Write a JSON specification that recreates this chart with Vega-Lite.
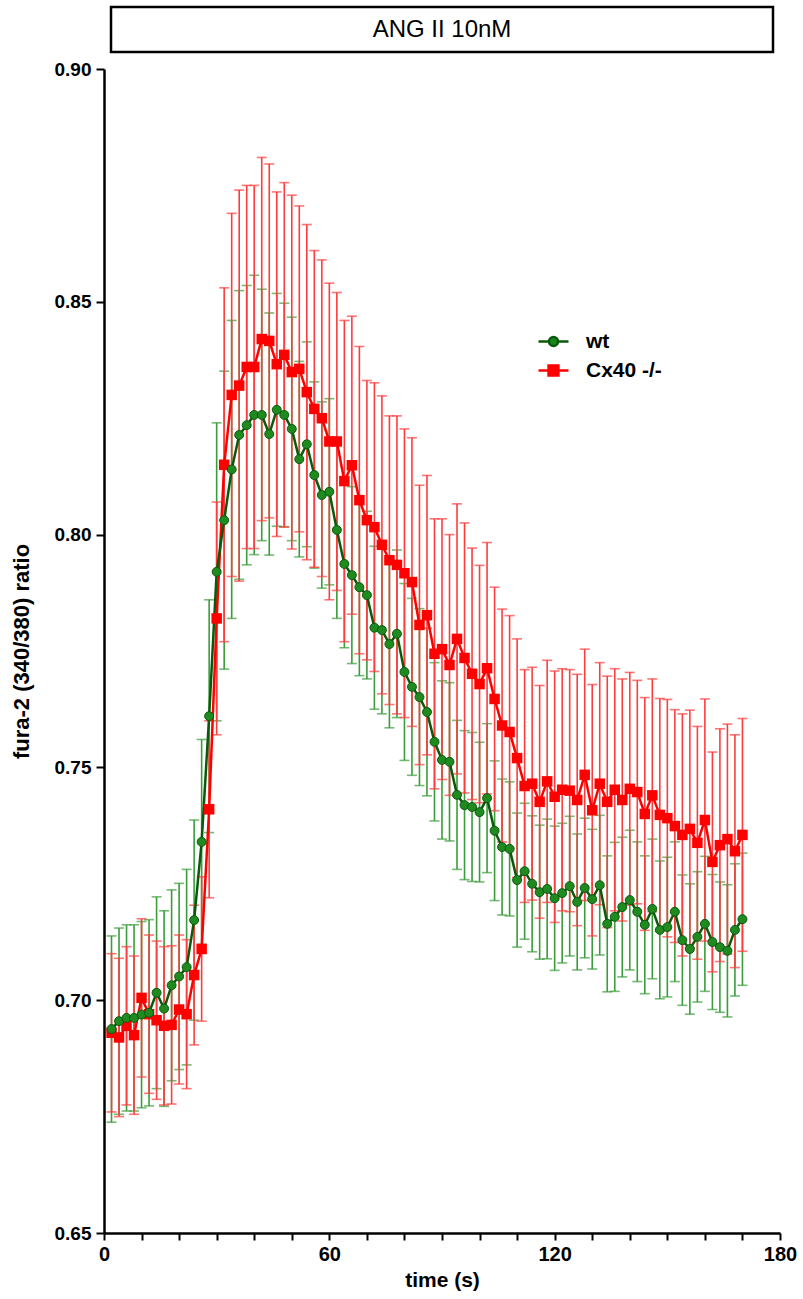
{
  "$schema": "https://vega.github.io/schema/vega-lite/v6.json",
  "padding": {"left": 10, "top": 5, "right": 4, "bottom": 4},
  "config": {"view": {"stroke": null}, "font": "Liberation Sans"},
  "bounds": "flush",
  "center": true,
  "spacing": 17,
  "vconcat": [
    {
      "width": 662,
      "height": 45,
      "view": {"stroke": "black", "strokeWidth": 2.5, "fill": "white"},
      "data": {"values": [{"label": "ANG II 10nM"}]},
      "mark": {"type": "text", "fontSize": 24, "font": "Liberation Sans", "color": "black", "baseline": "middle", "align": "center"},
      "encoding": {"text": {"field": "label", "type": "nominal"}}
    },
    {
      "width": 676,
      "height": 1164,
      "data": {"values": [
        {"t":2,"s":"Cx40 -/-","m":0.693,"e":0.017},
        {"t":4,"s":"Cx40 -/-","m":0.692,"e":0.017},
        {"t":6,"s":"Cx40 -/-","m":0.6945,"e":0.017},
        {"t":8,"s":"Cx40 -/-","m":0.6925,"e":0.017},
        {"t":10,"s":"Cx40 -/-","m":0.7005,"e":0.017},
        {"t":12,"s":"Cx40 -/-","m":0.697,"e":0.017},
        {"t":14,"s":"Cx40 -/-","m":0.6957,"e":0.017},
        {"t":16,"s":"Cx40 -/-","m":0.6945,"e":0.017},
        {"t":18,"s":"Cx40 -/-","m":0.6947,"e":0.017},
        {"t":20,"s":"Cx40 -/-","m":0.698,"e":0.016},
        {"t":22,"s":"Cx40 -/-","m":0.697,"e":0.016},
        {"t":24,"s":"Cx40 -/-","m":0.7054,"e":0.015},
        {"t":26,"s":"Cx40 -/-","m":0.711,"e":0.0155},
        {"t":28,"s":"Cx40 -/-","m":0.741,"e":0.019},
        {"t":30,"s":"Cx40 -/-","m":0.782,"e":0.025},
        {"t":32,"s":"Cx40 -/-","m":0.815,"e":0.038},
        {"t":34,"s":"Cx40 -/-","m":0.83,"e":0.039},
        {"t":36,"s":"Cx40 -/-","m":0.832,"e":0.042},
        {"t":38,"s":"Cx40 -/-","m":0.836,"e":0.039},
        {"t":40,"s":"Cx40 -/-","m":0.836,"e":0.039},
        {"t":42,"s":"Cx40 -/-","m":0.842,"e":0.039},
        {"t":44,"s":"Cx40 -/-","m":0.8416,"e":0.038},
        {"t":46,"s":"Cx40 -/-","m":0.8366,"e":0.037},
        {"t":48,"s":"Cx40 -/-","m":0.8386,"e":0.037},
        {"t":50,"s":"Cx40 -/-","m":0.8349,"e":0.038},
        {"t":52,"s":"Cx40 -/-","m":0.8356,"e":0.035},
        {"t":54,"s":"Cx40 -/-","m":0.8306,"e":0.036},
        {"t":56,"s":"Cx40 -/-","m":0.827,"e":0.034},
        {"t":58,"s":"Cx40 -/-","m":0.825,"e":0.034},
        {"t":60,"s":"Cx40 -/-","m":0.82,"e":0.034},
        {"t":62,"s":"Cx40 -/-","m":0.82,"e":0.032},
        {"t":64,"s":"Cx40 -/-","m":0.8115,"e":0.0345},
        {"t":66,"s":"Cx40 -/-","m":0.8149,"e":0.032},
        {"t":68,"s":"Cx40 -/-","m":0.8074,"e":0.033},
        {"t":70,"s":"Cx40 -/-","m":0.8031,"e":0.03},
        {"t":72,"s":"Cx40 -/-","m":0.8016,"e":0.031},
        {"t":74,"s":"Cx40 -/-","m":0.7978,"e":0.032},
        {"t":76,"s":"Cx40 -/-","m":0.7945,"e":0.031},
        {"t":78,"s":"Cx40 -/-","m":0.7935,"e":0.032},
        {"t":80,"s":"Cx40 -/-","m":0.7917,"e":0.031},
        {"t":82,"s":"Cx40 -/-","m":0.7898,"e":0.031},
        {"t":84,"s":"Cx40 -/-","m":0.7806,"e":0.03},
        {"t":86,"s":"Cx40 -/-","m":0.7827,"e":0.03},
        {"t":88,"s":"Cx40 -/-","m":0.7744,"e":0.029},
        {"t":90,"s":"Cx40 -/-","m":0.7754,"e":0.028},
        {"t":92,"s":"Cx40 -/-","m":0.772,"e":0.028},
        {"t":94,"s":"Cx40 -/-","m":0.7776,"e":0.029},
        {"t":96,"s":"Cx40 -/-","m":0.7735,"e":0.029},
        {"t":98,"s":"Cx40 -/-","m":0.7701,"e":0.027},
        {"t":100,"s":"Cx40 -/-","m":0.7679,"e":0.0255},
        {"t":102,"s":"Cx40 -/-","m":0.7713,"e":0.027},
        {"t":104,"s":"Cx40 -/-","m":0.7647,"e":0.024},
        {"t":106,"s":"Cx40 -/-","m":0.759,"e":0.025},
        {"t":108,"s":"Cx40 -/-","m":0.7576,"e":0.025},
        {"t":110,"s":"Cx40 -/-","m":0.752,"e":0.0256},
        {"t":112,"s":"Cx40 -/-","m":0.746,"e":0.025},
        {"t":114,"s":"Cx40 -/-","m":0.7465,"e":0.025},
        {"t":116,"s":"Cx40 -/-","m":0.7426,"e":0.025},
        {"t":118,"s":"Cx40 -/-","m":0.747,"e":0.026},
        {"t":120,"s":"Cx40 -/-","m":0.7437,"e":0.027},
        {"t":122,"s":"Cx40 -/-","m":0.7452,"e":0.026},
        {"t":124,"s":"Cx40 -/-","m":0.745,"e":0.026},
        {"t":126,"s":"Cx40 -/-","m":0.743,"e":0.027},
        {"t":128,"s":"Cx40 -/-","m":0.7484,"e":0.027},
        {"t":130,"s":"Cx40 -/-","m":0.7408,"e":0.027},
        {"t":132,"s":"Cx40 -/-","m":0.7465,"e":0.026},
        {"t":134,"s":"Cx40 -/-","m":0.7426,"e":0.027},
        {"t":136,"s":"Cx40 -/-","m":0.7452,"e":0.026},
        {"t":138,"s":"Cx40 -/-","m":0.743,"e":0.026},
        {"t":140,"s":"Cx40 -/-","m":0.7454,"e":0.025},
        {"t":142,"s":"Cx40 -/-","m":0.7447,"e":0.024},
        {"t":144,"s":"Cx40 -/-","m":0.74,"e":0.025},
        {"t":146,"s":"Cx40 -/-","m":0.744,"e":0.025},
        {"t":148,"s":"Cx40 -/-","m":0.7398,"e":0.025},
        {"t":150,"s":"Cx40 -/-","m":0.7391,"e":0.0255},
        {"t":152,"s":"Cx40 -/-","m":0.7374,"e":0.025},
        {"t":154,"s":"Cx40 -/-","m":0.7355,"e":0.026},
        {"t":156,"s":"Cx40 -/-","m":0.7368,"e":0.0255},
        {"t":158,"s":"Cx40 -/-","m":0.7338,"e":0.025},
        {"t":160,"s":"Cx40 -/-","m":0.7387,"e":0.026},
        {"t":162,"s":"Cx40 -/-","m":0.7297,"e":0.0236},
        {"t":164,"s":"Cx40 -/-","m":0.7333,"e":0.025},
        {"t":166,"s":"Cx40 -/-","m":0.7346,"e":0.0247},
        {"t":168,"s":"Cx40 -/-","m":0.732,"e":0.025},
        {"t":170,"s":"Cx40 -/-","m":0.7355,"e":0.025},
        {"t":2,"s":"wt","m":0.6938,"e":0.02},
        {"t":4,"s":"wt","m":0.6955,"e":0.02},
        {"t":6,"s":"wt","m":0.6962,"e":0.02},
        {"t":8,"s":"wt","m":0.6962,"e":0.02},
        {"t":10,"s":"wt","m":0.6969,"e":0.02},
        {"t":12,"s":"wt","m":0.6973,"e":0.02},
        {"t":14,"s":"wt","m":0.7016,"e":0.0206},
        {"t":16,"s":"wt","m":0.6982,"e":0.021},
        {"t":18,"s":"wt","m":0.7032,"e":0.0205},
        {"t":20,"s":"wt","m":0.7051,"e":0.02},
        {"t":22,"s":"wt","m":0.7071,"e":0.021},
        {"t":24,"s":"wt","m":0.7172,"e":0.0215},
        {"t":26,"s":"wt","m":0.734,"e":0.022},
        {"t":28,"s":"wt","m":0.761,"e":0.025},
        {"t":30,"s":"wt","m":0.792,"e":0.032},
        {"t":32,"s":"wt","m":0.8031,"e":0.032},
        {"t":34,"s":"wt","m":0.814,"e":0.032},
        {"t":36,"s":"wt","m":0.8214,"e":0.031},
        {"t":38,"s":"wt","m":0.8235,"e":0.03},
        {"t":40,"s":"wt","m":0.8257,"e":0.03},
        {"t":42,"s":"wt","m":0.8257,"e":0.027},
        {"t":44,"s":"wt","m":0.8216,"e":0.026},
        {"t":46,"s":"wt","m":0.8268,"e":0.025},
        {"t":48,"s":"wt","m":0.8257,"e":0.024},
        {"t":50,"s":"wt","m":0.8227,"e":0.024},
        {"t":52,"s":"wt","m":0.8162,"e":0.021},
        {"t":54,"s":"wt","m":0.8194,"e":0.022},
        {"t":56,"s":"wt","m":0.8128,"e":0.02},
        {"t":58,"s":"wt","m":0.8085,"e":0.02},
        {"t":60,"s":"wt","m":0.8092,"e":0.02},
        {"t":62,"s":"wt","m":0.801,"e":0.019},
        {"t":64,"s":"wt","m":0.7937,"e":0.018},
        {"t":66,"s":"wt","m":0.7913,"e":0.019},
        {"t":68,"s":"wt","m":0.7887,"e":0.019},
        {"t":70,"s":"wt","m":0.787,"e":0.018},
        {"t":72,"s":"wt","m":0.78,"e":0.0175},
        {"t":74,"s":"wt","m":0.7795,"e":0.018},
        {"t":76,"s":"wt","m":0.7765,"e":0.018},
        {"t":78,"s":"wt","m":0.7787,"e":0.018},
        {"t":80,"s":"wt","m":0.7705,"e":0.019},
        {"t":82,"s":"wt","m":0.7673,"e":0.019},
        {"t":84,"s":"wt","m":0.7651,"e":0.019},
        {"t":86,"s":"wt","m":0.7619,"e":0.018},
        {"t":88,"s":"wt","m":0.7555,"e":0.017},
        {"t":90,"s":"wt","m":0.7516,"e":0.017},
        {"t":92,"s":"wt","m":0.7512,"e":0.017},
        {"t":94,"s":"wt","m":0.7441,"e":0.016},
        {"t":96,"s":"wt","m":0.7419,"e":0.016},
        {"t":98,"s":"wt","m":0.7415,"e":0.016},
        {"t":100,"s":"wt","m":0.7404,"e":0.015},
        {"t":102,"s":"wt","m":0.7434,"e":0.016},
        {"t":104,"s":"wt","m":0.7364,"e":0.015},
        {"t":106,"s":"wt","m":0.7329,"e":0.0146},
        {"t":108,"s":"wt","m":0.7325,"e":0.0144},
        {"t":110,"s":"wt","m":0.7258,"e":0.0144},
        {"t":112,"s":"wt","m":0.7277,"e":0.0146},
        {"t":114,"s":"wt","m":0.725,"e":0.0146},
        {"t":116,"s":"wt","m":0.7232,"e":0.0144},
        {"t":118,"s":"wt","m":0.7239,"e":0.015},
        {"t":120,"s":"wt","m":0.7219,"e":0.0155},
        {"t":122,"s":"wt","m":0.723,"e":0.015},
        {"t":124,"s":"wt","m":0.7245,"e":0.015},
        {"t":126,"s":"wt","m":0.7211,"e":0.0146},
        {"t":128,"s":"wt","m":0.7241,"e":0.015},
        {"t":130,"s":"wt","m":0.7217,"e":0.015},
        {"t":132,"s":"wt","m":0.7247,"e":0.015},
        {"t":134,"s":"wt","m":0.7164,"e":0.0146},
        {"t":136,"s":"wt","m":0.7179,"e":0.016},
        {"t":138,"s":"wt","m":0.72,"e":0.015},
        {"t":140,"s":"wt","m":0.7215,"e":0.015},
        {"t":142,"s":"wt","m":0.719,"e":0.015},
        {"t":144,"s":"wt","m":0.7162,"e":0.0148},
        {"t":146,"s":"wt","m":0.7196,"e":0.015},
        {"t":148,"s":"wt","m":0.7151,"e":0.0148},
        {"t":150,"s":"wt","m":0.7157,"e":0.015},
        {"t":152,"s":"wt","m":0.719,"e":0.015},
        {"t":154,"s":"wt","m":0.7129,"e":0.014},
        {"t":156,"s":"wt","m":0.711,"e":0.014},
        {"t":158,"s":"wt","m":0.7136,"e":0.014},
        {"t":160,"s":"wt","m":0.7164,"e":0.0145},
        {"t":162,"s":"wt","m":0.7125,"e":0.0145},
        {"t":164,"s":"wt","m":0.7114,"e":0.014},
        {"t":166,"s":"wt","m":0.7106,"e":0.0142},
        {"t":168,"s":"wt","m":0.7151,"e":0.0142},
        {"t":170,"s":"wt","m":0.7174,"e":0.0142}
      ]},
      "encoding": {
        "x": {
          "field": "t", "type": "quantitative",
          "scale": {"domain": [0, 180], "nice": false, "zero": false},
          "axis": {
            "title": "time (s)",
            "values": [0,10,20,30,40,50,60,70,80,90,100,110,120,130,140,150,160,170,180],
            "labelExpr": "datum.value % 60 === 0 ? datum.label : ''",
            "grid": false,
            "domainColor": "black", "domainWidth": 2.5,
            "tickColor": "black", "tickWidth": 2, "tickSize": 7,
            "labelFont": "Liberation Sans", "labelFontSize": 20, "labelFontWeight": "bold", "labelColor": "black",
            "labelPadding": 4, "labelFlush": false,
            "titleFont": "Liberation Sans", "titleFontSize": 21, "titleFontWeight": "bold", "titleColor": "black",
            "titlePadding": 5
          }
        },
        "y": {
          "field": "m", "type": "quantitative",
          "scale": {"domain": [0.65, 0.9], "nice": false, "zero": false},
          "axis": {
            "title": "fura-2 (340/380) ratio",
            "values": [0.65, 0.7, 0.75, 0.8, 0.85, 0.9],
            "format": ".2f",
            "grid": false,
            "domainColor": "black", "domainWidth": 2.5,
            "tickColor": "black", "tickWidth": 2, "tickSize": 8,
            "labelFont": "Liberation Sans", "labelFontSize": 19, "labelFontWeight": "bold", "labelColor": "black",
            "labelPadding": 5,
            "titleFont": "Liberation Sans", "titleFontSize": 22, "titleFontWeight": "bold", "titleColor": "black",
            "titlePadding": 21
          }
        }
      },
      "layer": [
        {
          "transform": [{"filter": "datum.s === 'wt'"}],
          "mark": {"type": "errorbar", "color": "#3a9c3a", "thickness": 1.6, "ticks": {"size": 10}},
          "encoding": {"yError": {"field": "e"}}
        },
        {
          "transform": [{"filter": "datum.s === 'Cx40 -/-'"}],
          "mark": {"type": "errorbar", "color": "#ff3c3c", "thickness": 1.6, "ticks": {"size": 10}},
          "encoding": {"yError": {"field": "e"}}
        },
        {
          "mark": {"type": "line", "strokeWidth": 2.5},
          "encoding": {
            "color": {
              "field": "s", "type": "nominal",
              "scale": {"domain": ["wt", "Cx40 -/-"], "range": ["#0b5a0b", "#ff0000"]},
              "legend": {
                "title": null,
                "orient": "none", "legendX": 433, "legendY": 318,
                "labelFont": "Liberation Sans", "labelFontSize": 21, "labelFontWeight": "bold", "labelColor": "black",
                "symbolSize": 900, "symbolStrokeWidth": 2.5, "labelOffset": 16, "rowPadding": 2,
                "encode": {
                  "symbols": {
                    "update": {
                      "shape": {"signal": "datum.value === 'wt' ? 'M-1,0L-0.3,0M0.3,0L1,0M-0.3,0A0.3,0.3,0,1,1,0.3,0A0.3,0.3,0,1,1,-0.3,0Z' : 'M-1,0L-0.33,0M0.33,0L1,0M-0.33,-0.33L0.33,-0.33L0.33,0.33L-0.33,0.33Z'"},
                      "fill": {"signal": "datum.value === 'wt' ? '#1a861a' : '#ff0000'"},
                      "stroke": {"signal": "datum.value === 'wt' ? '#1a861a' : '#ff0000'"},
                      "strokeWidth": {"value": 2.5},
                      "opacity": {"value": 1},
                      "fillOpacity": {"value": 1}
                    }
                  }
                }
              }
            }
          }
        },
        {
          "transform": [{"filter": "datum.s === 'Cx40 -/-'"}],
          "mark": {"type": "point", "shape": "square", "filled": true, "size": 110, "color": "#ff0000", "opacity": 1}
        },
        {
          "transform": [{"filter": "datum.s === 'wt'"}],
          "mark": {"type": "point", "shape": "circle", "filled": true, "size": 80, "fill": "#1f8a1f", "stroke": "#0b5a0b", "strokeWidth": 1, "opacity": 1}
        }
      ]
    }
  ]
}
